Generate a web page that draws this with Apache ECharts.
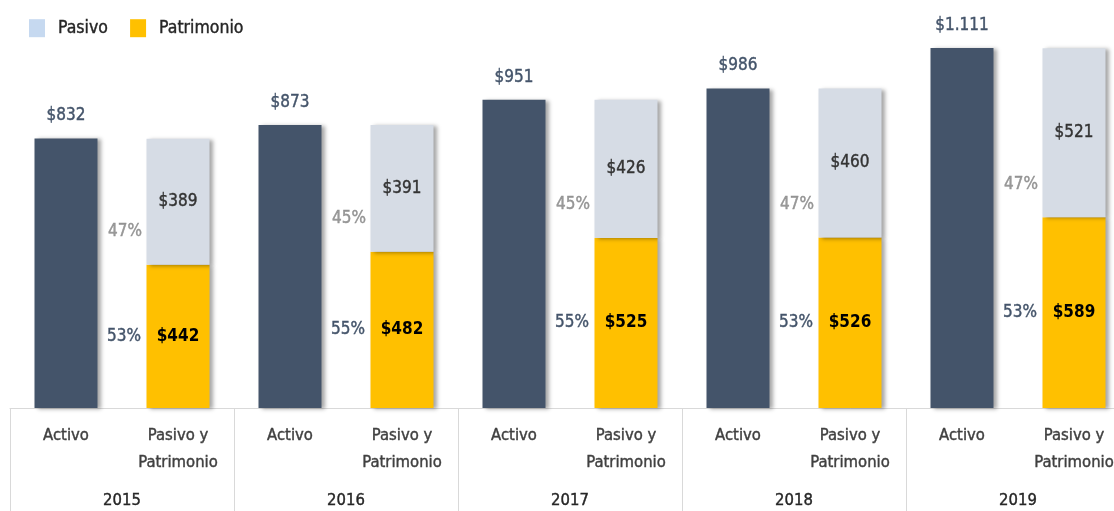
<!DOCTYPE html>
<html lang="es">
<head>
    <meta charset="UTF-8">
    <title>Activo, Pasivo y Patrimonio</title>
</head>
<body style="margin:0;overflow:hidden">
<!-- el grafico original se corta por la derecha: el lienzo es mas ancho que la ventana -->
<div class="main" style="width: 1130px;height: 511px;"></div>
</body>
<script src="https://cdn.jsdelivr.net/npm/echarts@6/dist/echarts.min.js"></script>
<script>
    var years = ["2015", "2016", "2017", "2018", "2019"];
    var catNames = ["Activo", "Pasivo y\nPatrimonio"];
    var activo = [832, 873, 951, 986, 1111];
    var pasivo = [389, 391, 426, 460, 521];
    var patrimonio = [442, 482, 525, 526, 589];

    var FONT = "'Liberation Sans Narrow', 'DejaVu Sans Condensed', sans-serif";

    // 10 categorias: Activo / Pasivo y Patrimonio por anio
    var cats = [];
    var activoData = [], pasivoData = [], patrimonioData = [];
    years.forEach(function (y, i) {
        cats.push(catNames[0], catNames[1]);
        activoData.push(activo[i], "-");
        pasivoData.push("-", pasivo[i]);
        patrimonioData.push("-", patrimonio[i]);
    });

    function money(v) {
        return "$" + String(v).replace(/\B(?=(\d{3})+(?!\d))/g, ".");
    }
    function pct(i, v) {
        return Math.round(v / (pasivo[i] + patrimonio[i]) * 100) + "%";
    }
    // trazo fino del mismo color para engrosar un poco el texto
    function heavy(color) {
        return {color: color, textBorderColor: color, textBorderWidth: 0.4};
    }

    var shadow = {shadowColor: "rgba(0,0,0,0.35)", shadowBlur: 4, shadowOffsetX: 3, shadowOffsetY: 1};

    var main = document.querySelector(".main");
    var chart = echarts.init(main);

    var option = {
        animation: false,
        textStyle: {fontFamily: FONT},
        legend: {
            left: 24,
            top: 14,
            icon: "rect",
            itemWidth: 16,
            itemHeight: 18,
            itemGap: 22,
            textStyle: Object.assign({fontSize: 17.5, fontFamily: FONT, padding: [0, 0, 0, 8]}, heavy("#262626")),
            data: [
                {name: "Pasivo", itemStyle: {color: "#c6d9f0"}},
                {name: "Patrimonio", itemStyle: {color: "#ffc000"}}
            ]
        },
        grid: {left: 10, top: 48, right: 0, bottom: 103},
        xAxis: [{
            type: "category",
            data: cats,
            axisLine: {lineStyle: {color: "#d9d9d9", width: 1}},
            axisTick: {show: false},
            axisLabel: Object.assign({
                interval: 0, margin: 14, fontSize: 16.5, lineHeight: 27, fontFamily: FONT
            }, heavy("#404040"))
        }, {
            type: "category",
            data: years,
            position: "bottom",
            axisLine: {show: false},
            axisTick: {show: true, length: 110, lineStyle: {color: "#d9d9d9"}},
            axisLabel: Object.assign({interval: 0, margin: 84, fontSize: 16.5, fontFamily: FONT}, heavy("#262626"))
        }],
        yAxis: {
            type: "value",
            min: 0,
            max: function (e) { return e.max; },
            show: false,
            splitLine: {show: false}
        },
        series: [{
            name: "Patrimonio",
            type: "bar",
            stack: "t",
            barWidth: 63,
            data: patrimonioData,
            itemStyle: Object.assign({color: "#ffc000"}, shadow),
            label: {
                show: true,
                position: "inside",
                formatter: function (p) {
                    var i = Math.floor(p.dataIndex / 2);
                    return "{p|" + pct(i, patrimonio[i]) + "}{v|" + money(p.value) + "}{e|}";
                },
                rich: {
                    p: Object.assign({width: 45, align: "right", fontSize: 17, fontFamily: FONT}, heavy("#44546a")),
                    v: {width: 63, align: "center", fontSize: 17, color: "#000", fontWeight: "bold", fontFamily: FONT},
                    e: {width: 45}
                }
            }
        }, {
            name: "Pasivo",
            type: "bar",
            stack: "t",
            barWidth: 63,
            data: pasivoData,
            itemStyle: Object.assign({color: "#d6dce5"}, shadow),
            label: Object.assign({
                show: true,
                position: "inside",
                fontSize: 17,
                fontFamily: FONT,
                formatter: function (p) { return money(p.value); }
            }, heavy("#333333"))
        }, {
            name: "Activo",
            type: "bar",
            stack: "t",
            barWidth: 63,
            data: activoData,
            itemStyle: Object.assign({color: "#44546a"}, shadow),
            label: Object.assign({
                show: true,
                position: "top",
                distance: 14,
                fontSize: 17,
                fontFamily: FONT,
                formatter: function (p) { return money(p.value); }
            }, heavy("#44546a"))
        }, {
            // porcentaje del pasivo, junto al limite pasivo/patrimonio
            name: "pctPasivo",
            type: "scatter",
            symbolSize: 0,
            data: patrimonioData,
            silent: true,
            label: Object.assign({
                show: true,
                position: [-36, -33],
                align: "right",
                verticalAlign: "middle",
                fontSize: 17,
                fontFamily: FONT,
                formatter: function (p) {
                    var i = Math.floor(p.dataIndex / 2);
                    return pct(i, pasivo[i]);
                }
            }, heavy("#808080"))
        }]
    };

    chart.setOption(option);
</script>
</html>
